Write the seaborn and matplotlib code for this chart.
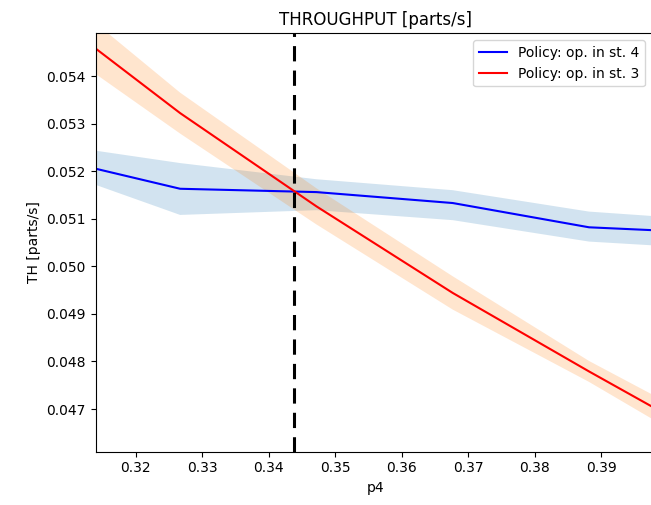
import matplotlib
matplotlib.use("Agg")
import matplotlib.pyplot as plt
import seaborn as sns
import numpy as np
import pandas as pd

# p4 values of the simulated points
p4 = [0.3062, 0.3267, 0.3472, 0.3677, 0.3882, 0.4087]

# policy: operator in station 4
th_st4 = [0.05231, 0.05163, 0.05156, 0.05133, 0.05082, 0.05069]
th_st4_lo = [0.05210, 0.05108, 0.05118, 0.05097, 0.05052, 0.05035]
th_st4_hi = [0.05259, 0.05217, 0.05183, 0.05160, 0.05115, 0.05095]

# policy: operator in station 3
th_st3 = [0.05541, 0.05322, 0.05126, 0.04944, 0.04779, 0.04619]
th_st3_lo = [0.05481, 0.05279, 0.05088, 0.04909, 0.04757, 0.04589]
th_st3_hi = [0.05601, 0.05365, 0.05164, 0.04979, 0.04801, 0.04649]

p4_switch = 0.3438

df = pd.DataFrame({"p4": p4, "st4": th_st4, "st3": th_st3})

fig = plt.figure(figsize=(6.51, 5.05), dpi=100)
# the axes run a little past the right edge, as in the cropped original
ax = fig.add_axes([0.147, 0.1055, 0.86, 0.8285])

ax.fill_between(p4, th_st4_lo, th_st4_hi, color="#1f77b4", alpha=0.2, linewidth=0)
ax.fill_between(p4, th_st3_lo, th_st3_hi, color="#ff7f0e", alpha=0.2, linewidth=0)
sns.lineplot(data=df, x="p4", y="st4", color="blue", label="Policy: op. in st. 4", ax=ax)
sns.lineplot(data=df, x="p4", y="st3", color="red", label="Policy: op. in st. 3", ax=ax)
ax.axvline(p4_switch, color="black", linestyle="--", linewidth=2.2, dashes=(5, 3))

ax.set_xlim(0.3140, 0.3982)
ax.set_ylim(0.046103, 0.054897)
ax.set_xticks([0.32, 0.33, 0.34, 0.35, 0.36, 0.37, 0.38, 0.39])
ax.set_xlabel("p4")
ax.set_ylabel("TH [parts/s]")
ax.set_title("THROUGHPUT [parts/s]", fontsize=12)
ax.legend(loc="upper right", bbox_to_anchor=(0.993, 1.0))

fig.savefig("out.png", dpi=100)
